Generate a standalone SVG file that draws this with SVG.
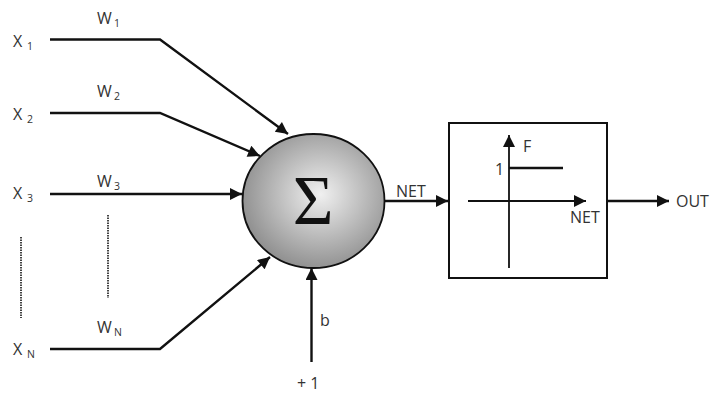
<svg xmlns="http://www.w3.org/2000/svg" width="710" height="394" viewBox="0 0 710 394">
<style>
  .t{font-family:"Open Sans","Liberation Sans",sans-serif;font-size:16px;fill:#333}
  .s{font-family:"Open Sans","Liberation Sans",sans-serif;font-size:10.5px;fill:#333}
  .ln{fill:none;stroke:#111;stroke-width:2.4}
  .thin{fill:none;stroke:#111;stroke-width:1.8}
  .dot{fill:none;stroke:#444;stroke-width:2;stroke-dasharray:1.5 1}
</style>
<defs>
  <marker id="ah" viewBox="0 0 10 10" refX="10" refY="5" markerWidth="14" markerHeight="12" markerUnits="userSpaceOnUse" orient="auto">
    <path d="M0,0 L10,5 L0,10 Z" fill="#111"/>
  </marker>
  <marker id="ahb" viewBox="0 0 10 10" refX="10" refY="5" markerWidth="13" markerHeight="12" markerUnits="userSpaceOnUse" orient="auto">
    <path d="M0,0 L10,5 L0,10 Z" fill="#111"/>
  </marker>
  <radialGradient id="g" cx="0.55" cy="0.45" r="0.6">
    <stop offset="0" stop-color="#f0f0f0"/>
    <stop offset="1" stop-color="#8a8a8a"/>
  </radialGradient>
</defs>

<g id="inputs">
  <g id="x1"><text class="t" x="13" y="47">X</text><text class="s" x="27" y="50">1</text></g>
  <g id="x2"><text class="t" x="13" y="120">X</text><text class="s" x="27" y="123">2</text></g>
  <g id="x3"><text class="t" x="13" y="199">X</text><text class="s" x="27" y="202">3</text></g>
  <g id="xn"><text class="t" x="13" y="355">X</text><text class="s" x="27" y="358">N</text></g>
  <g id="w1"><text class="t" x="97" y="24">W</text><text class="s" x="114" y="27">1</text></g>
  <g id="w2"><text class="t" x="97" y="97">W</text><text class="s" x="114" y="100">2</text></g>
  <g id="w3"><text class="t" x="97" y="187">W</text><text class="s" x="114" y="190">3</text></g>
  <g id="wn"><text class="t" x="97" y="333">W</text><text class="s" x="114" y="336">N</text></g>
  <line class="dot" x1="21" y1="237" x2="21" y2="318"/>
  <line class="dot" x1="108" y1="215" x2="108" y2="298"/>
</g>

<g id="sum">
  <ellipse cx="313.5" cy="201" rx="71" ry="67" fill="url(#g)" stroke="#111" stroke-width="1.8"/>
  <text x="313" y="224" text-anchor="middle" font-family="Liberation Serif,serif" font-size="70" fill="#111">Σ</text>
</g>

<g id="activation">
  <rect x="449" y="123" width="158" height="155" fill="#fff" stroke="#111" stroke-width="2"/>
  <line class="thin" x1="509" y1="268" x2="509" y2="135" marker-end="url(#ahb)"/>
  <line class="thin" x1="468" y1="201" x2="586" y2="201" marker-end="url(#ahb)"/>
  <line class="ln" x1="509" y1="168" x2="563" y2="168"/>
  <text class="t" x="495" y="175">1</text>
  <text class="t" x="523" y="152">F</text>
  <text class="t" x="570" y="223">NET</text>
</g>

<g id="connectors">
  <polyline class="ln" points="50,39.5 160,39.5 288,134" marker-end="url(#ah)"/>
  <polyline class="ln" points="50,113 160,113 260,156" marker-end="url(#ah)"/>
  <line class="ln" x1="50" y1="194" x2="242" y2="194" marker-end="url(#ah)"/>
  <polyline class="ln" points="50,349 160,349 270,257" marker-end="url(#ah)"/>
  <line class="ln" x1="311.5" y1="362" x2="311.5" y2="268" marker-end="url(#ah)"/>
  <line class="ln" x1="385" y1="201" x2="448" y2="201" marker-end="url(#ah)"/>
  <line class="ln" x1="607" y1="201" x2="669" y2="201" marker-end="url(#ah)"/>
</g>

<g id="labels">
  <text class="t" x="396" y="197">NET</text>
  <text class="t" x="676" y="207">OUT</text>
  <text class="t" x="320" y="326">b</text>
  <text class="t" x="297" y="389">+ 1</text>
</g>
</svg>
